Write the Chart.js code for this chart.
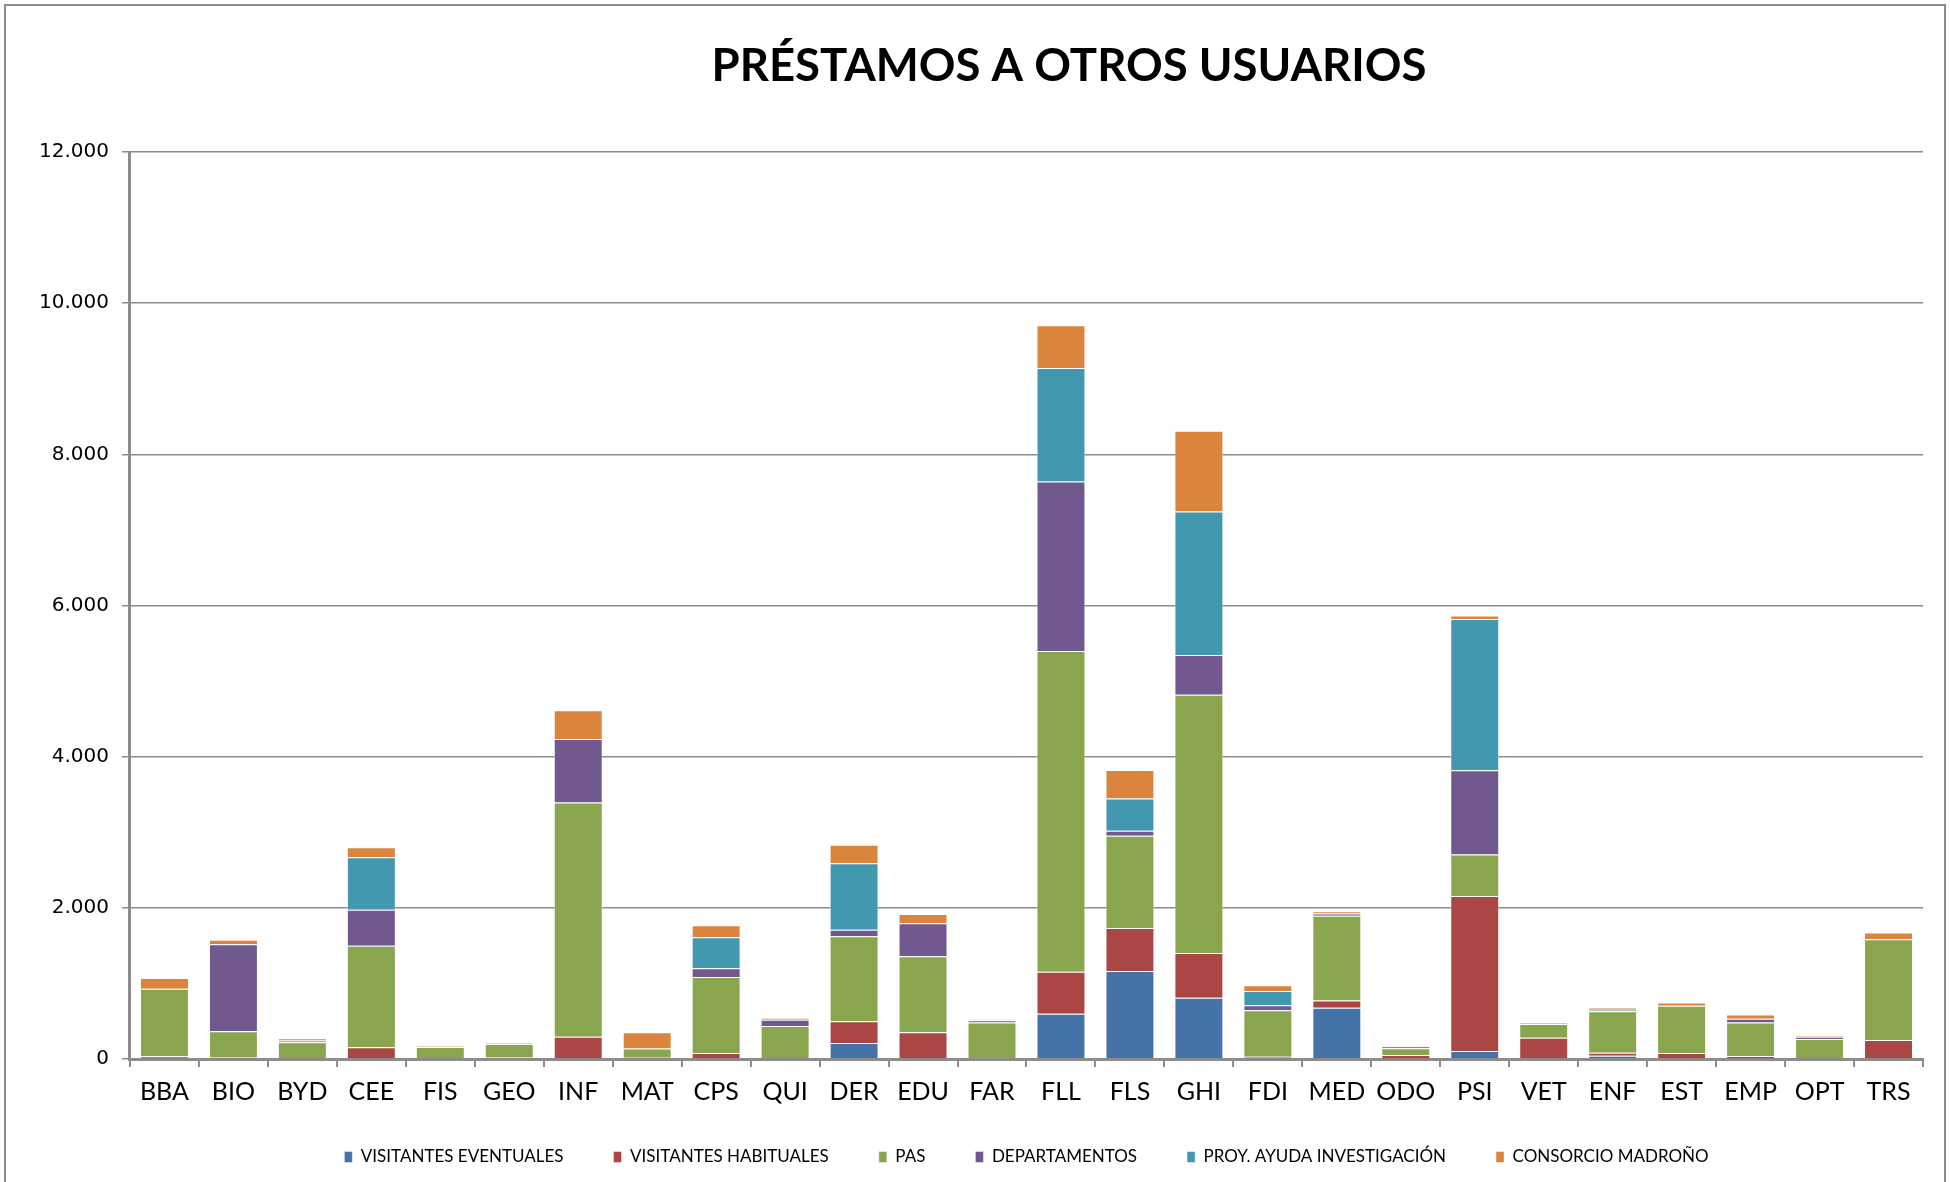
<!DOCTYPE html>
<html>
<head>
<meta charset="utf-8">
<title>Préstamos a otros usuarios</title>
<script src="https://cdn.jsdelivr.net/npm/chart.js@4.4.1/dist/chart.umd.min.js"></script>
<style>
    html, body { margin: 0; padding: 0; background: #fff; }
    canvas { display: block; }
</style>
</head>
<body>
<canvas id="chart" width="1950" height="1182"></canvas>
<script>
// datos
const categories = ["BBA", "BIO", "BYD", "CEE", "FIS", "GEO", "INF", "MAT", "CPS", "QUI", "DER", "EDU", "FAR",
    "FLL", "FLS", "GHI", "FDI", "MED", "ODO", "PSI", "VET", "ENF", "EST", "EMP", "OPT", "TRS"]

const visitantesEventuales = [0, 5, 0, 0, 0, 0, 0, 0, 0, 0, 213, 0, 0, 600, 1165, 812, 30, 678, 5, 107, 0, 42, 0, 5, 0, 0]
const visitantesHabituales = [35, 22, 5, 155, 0, 25, 293, 15, 80, 0, 288, 355, 13, 553, 568, 590, 0, 96, 48, 2049, 280, 40, 80, 35, 0, 253]
const pas = [896, 341, 217, 1344, 160, 175, 3102, 125, 1006, 435, 1122, 1006, 470, 4246, 1220, 3416, 614, 1120, 90, 550, 182, 550, 623, 443, 266, 1330]
const departamentos = [0, 1149, 22, 474, 0, 0, 840, 0, 116, 84, 87, 435, 31, 2243, 67, 527, 67, 31, 22, 1113, 0, 0, 0, 49, 27, 0]
const proyAyuda = [0, 0, 0, 697, 0, 0, 0, 0, 408, 0, 880, 0, 0, 1500, 426, 1898, 189, 0, 0, 2002, 0, 20, 0, 0, 0, 0]
const consorcio = [142, 62, 31, 132, 10, 8, 379, 213, 159, 26, 245, 124, 8, 567, 378, 1068, 75, 31, 9, 46, 14, 28, 44, 58, 13, 89]

const yTicks = [0, 2000, 4000, 6000, 8000, 10000, 12000]

const series = [
    { label: "VISITANTES EVENTUALES", data: visitantesEventuales, color: "#4572A7" },
    { label: "VISITANTES HABITUALES", data: visitantesHabituales, color: "#AA4643" },
    { label: "PAS", data: pas, color: "#89A54E" },
    { label: "DEPARTAMENTOS", data: departamentos, color: "#71588F" },
    { label: "PROY. AYUDA INVESTIGACIÓN", data: proyAyuda, color: "#4198AF" },
    { label: "CONSORCIO MADROÑO", data: consorcio, color: "#DB843D" },
]

const gridColor = "#8c8c8c"

// punto como separador de miles: 12.000
const fmt = (v) => String(v).replace(/\B(?=(\d{3})+(?!\d))/g, ".")

// titulo y marco exterior
const frameAndTitle = {
    id: "frameAndTitle",
    beforeDraw(chart) {
        const ctx = chart.ctx
        ctx.save()
        ctx.fillStyle = "#fff"
        ctx.fillRect(0, 0, chart.width, chart.height)
        ctx.strokeStyle = "#8c8c8c"
        ctx.lineWidth = 2
        ctx.strokeRect(5, 5, chart.width - 10, chart.height + 20)
        ctx.restore()
    },
    afterDraw(chart) {
        const ctx = chart.ctx
        ctx.save()
        ctx.font = "bold 45.5px Lato"
        ctx.fillStyle = "#000"
        ctx.textAlign = "center"
        ctx.textBaseline = "middle"
        ctx.fillText("PRÉSTAMOS A OTROS USUARIOS", 1069, 66)
        ctx.restore()
    }
}

new Chart(document.getElementById("chart"), {
    type: "bar",
    data: {
        labels: categories,
        datasets: series.map(s => ({
            label: s.label,
            data: s.data,
            backgroundColor: s.color,
            borderColor: "rgba(255,255,255,0.45)",
            borderWidth: 1,
            categoryPercentage: 0.71,
            barPercentage: 1,
        }))
    },
    options: {
        responsive: false,
        animation: false,
        devicePixelRatio: 1,
        layout: {
            padding: { top: 152, left: 26, right: 27, bottom: 6.5 }
        },
        plugins: {
            title: { display: false },
            tooltip: { enabled: false },
            legend: {
                position: "bottom",
                fullSize: false,
                // titulo vacio con padding negativo: separa mas los items sin subir la leyenda
                title: {
                    display: true,
                    text: "",
                    font: { size: 1, lineHeight: 0 },
                    padding: { top: -18.5, bottom: 0 },
                },
                labels: {
                    color: "#000",
                    font: { family: "Lato", size: 17 },
                    boxWidth: 8,
                    boxHeight: 11,
                    padding: 50,
                }
            }
        },
        scales: {
            x: {
                stacked: true,
                grid: {
                    offset: true,
                    drawOnChartArea: false,
                    drawTicks: true,
                    tickLength: 8,
                    color: gridColor,
                    lineWidth: 2,
                },
                border: { color: gridColor, width: 3 },
                ticks: {
                    color: "#000",
                    font: { family: "Lato", size: 25, lineHeight: 0.8 },
                    padding: 15,
                    maxRotation: 0,
                    autoSkip: false,
                }
            },
            y: {
                stacked: true,
                min: yTicks[0],
                max: yTicks[yTicks.length - 1],
                afterBuildTicks: (scale) => {
                    scale.ticks = yTicks.map(v => ({ value: v }))
                },
                grid: {
                    color: gridColor,
                    lineWidth: 1.5,
                    tickLength: 8,
                },
                border: { color: gridColor, width: 3 },
                ticks: {
                    color: "#000",
                    font: { family: "DejaVu Sans", size: 20 },
                    padding: 13,
                    callback: (v) => fmt(v),
                }
            }
        }
    },
    plugins: [frameAndTitle]
})
</script>
</body>
</html>
